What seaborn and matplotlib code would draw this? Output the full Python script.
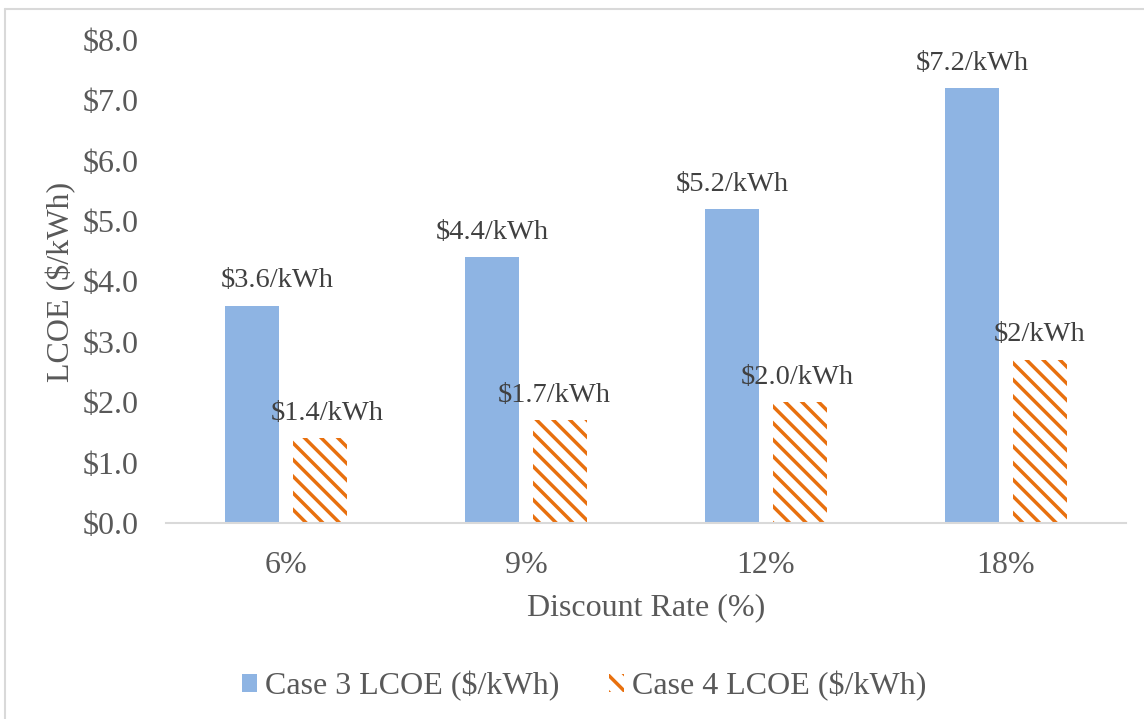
import matplotlib
matplotlib.use("Agg")
import matplotlib.pyplot as plt
from matplotlib.patches import Patch
from matplotlib.lines import Line2D
import seaborn as sns
import pandas as pd

# Data
rates = ["6%", "9%", "12%", "18%"]
series = ["Case 3 LCOE ($/kWh)", "Case 4 LCOE ($/kWh)"]
case3 = [3.6, 4.4, 5.2, 7.2]
case4 = [1.4, 1.7, 2.0, 2.7]
case3_labels = ["$3.6/kWh", "$4.4/kWh", "$5.2/kWh", "$7.2/kWh"]
case4_labels = ["$1.4/kWh", "$1.7/kWh", "$2.0/kWh", "$2/kWh"]
yticks = [0, 1, 2, 3, 4, 5, 6, 7, 8]

BLUE = "#8EB4E3"
ORANGE = "#E8700E"
TEXT = "#595959"
LINE = "#D9D9D9"
FS = 23

sns.set_theme(style="white")
plt.rcParams["font.family"] = ["Liberation Serif", "DejaVu Serif"]
plt.rcParams["text.parse_math"] = False
plt.rcParams["hatch.linewidth"] = 2.5
plt.rcParams["hatch.color"] = ORANGE

df = pd.DataFrame({
    "rate": rates * 2,
    "case": [series[0]] * 4 + [series[1]] * 4,
    "value": case3 + case4,
})

fig = plt.figure(figsize=(11.44, 7.19), dpi=100)
ax = fig.add_axes([166 / 1144, 1 - 523 / 719, 960 / 1144, 483 / 719])

sns.barplot(data=df, x="rate", y="value", hue="case", order=rates,
            hue_order=series, palette=[BLUE, "white"], width=0.567,
            gap=0.206, saturation=1, errorbar=None, legend=False, ax=ax)

blue_bars = ax.containers[0]
orange_bars = ax.containers[1]
for b in blue_bars:
    b.set_linewidth(0)
for b in orange_bars:
    b.set_facecolor("white")
    b.set_edgecolor(ORANGE)
    b.set_hatch("\\\\")
    b.set_linewidth(0)

# value labels above bars
blue_dx = [18, 0, 0, 0]
orange_dx = [5, -4, -2, 0]
for bar, txt, dx in zip(blue_bars, case3_labels, blue_dx):
    ax.annotate(txt, (bar.get_x() + bar.get_width() / 2, bar.get_height()),
                xytext=(dx, 18), textcoords="offset points", ha="center",
                va="center", fontsize=20.5, color="#404040")
for bar, txt, dx in zip(orange_bars, case4_labels, orange_dx):
    ax.annotate(txt, (bar.get_x() + bar.get_width() / 2, bar.get_height()),
                xytext=(dx, 18), textcoords="offset points", ha="center",
                va="center", fontsize=20.5, color="#404040")

ax.set_ylim(0, 8)
ax.set_xlim(-0.5, 3.5)
ax.set_yticks(yticks)
ax.set_yticklabels([f"${v:.1f}" for v in yticks])
ax.tick_params(axis="y", length=0, pad=20, labelsize=FS, labelcolor=TEXT)
ax.tick_params(axis="x", length=0, pad=20, labelsize=FS, labelcolor=TEXT)

ax.set_xlabel("Discount Rate (%)", fontsize=FS, color=TEXT, labelpad=9.5)
ax.set_ylabel("LCOE ($/kWh)", fontsize=FS, color=TEXT)
ax.yaxis.set_label_coords(-0.094, 0.5)

for side in ["left", "right", "top"]:
    ax.spines[side].set_visible(False)
ax.spines["bottom"].set_color(LINE)
ax.spines["bottom"].set_linewidth(1.5)
ax.grid(False)

handles = [
    Patch(facecolor=BLUE, edgecolor="none", linewidth=0),
    Patch(facecolor="white", edgecolor=ORANGE, hatch="\\\\", linewidth=0),
]
fig.legend(handles, series, loc="center",
           bbox_to_anchor=(584 / 1144, 1 - 686 / 719), ncol=2, frameon=False,
           fontsize=FS, labelcolor=TEXT, handlelength=0.47, handleheight=0.47,
           handletextpad=0.25, columnspacing=1.55)

# chart frame edges
fig.add_artist(Line2D([5 / 1144, 5 / 1144], [0, 1 - 9 / 719],
                      transform=fig.transFigure, color=LINE, lw=1.5))
fig.add_artist(Line2D([5 / 1144, 1], [1 - 9 / 719, 1 - 9 / 719],
                      transform=fig.transFigure, color=LINE, lw=1.5))

fig.savefig("out.png", dpi=100, facecolor="white")
